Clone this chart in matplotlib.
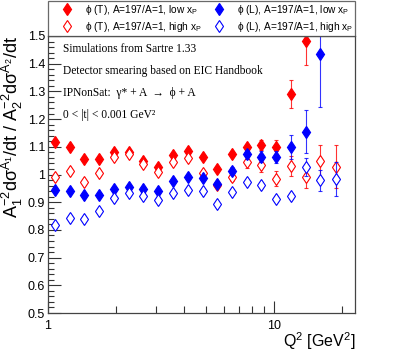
import matplotlib
matplotlib.use("Agg")
import matplotlib.pyplot as plt
from matplotlib.ticker import FixedLocator, FixedFormatter, MultipleLocator, NullFormatter

# ---- data ----
q2 = [1.07, 1.25, 1.45, 1.68, 1.96, 2.28, 2.64, 3.08, 3.58, 4.16,
      4.84, 5.61, 6.52, 7.57, 8.79, 10.2, 11.9, 13.8, 16.0, 18.7]

t_low = [1.116, 1.100, 1.057, 1.056, 1.082, 1.081, 1.050, 1.028, 1.070, 1.086,
         1.064, 1.019, 1.074, 1.098, 1.106, 1.100, 1.291, 1.483]
t_low_err = [0.006, 0.006, 0.006, 0.006, 0.007, 0.007, 0.007, 0.008, 0.008, 0.008,
             0.009, 0.010, 0.011, 0.013, 0.018, 0.025, 0.050, 0.088]

t_high = [0.992, 1.013, 0.974, 1.005, 1.064, 1.075, 1.037, 1.008, 1.044, 1.058,
          1.004, 0.961, 0.992, 1.044, 1.033, 0.984, 1.031, 0.992, 1.049, 1.028]
t_high_err = [0.006, 0.006, 0.006, 0.006, 0.007, 0.007, 0.007, 0.008, 0.008, 0.009,
              0.010, 0.011, 0.014, 0.020, 0.025, 0.027, 0.035, 0.040, 0.057, 0.078]

l_low = [0.944, 0.940, 0.926, 0.927, 0.949, 0.954, 0.947, 0.939, 0.978, 0.992,
         0.986, 0.965, 1.013, 1.073, 1.064, 1.063, 1.100, 1.155, 1.435]
l_low_err = [0.006, 0.006, 0.006, 0.006, 0.007, 0.007, 0.007, 0.008, 0.008, 0.009,
             0.010, 0.011, 0.013, 0.016, 0.020, 0.022, 0.044, 0.077, 0.190]

l_high = [0.818, 0.842, 0.839, 0.869, 0.914, 0.932, 0.922, 0.908, 0.932, 0.944,
          0.940, 0.892, 0.938, 0.974, 0.962, 0.912, 0.923, 1.028, 0.980, 0.983]
l_high_err = [0.005, 0.005, 0.005, 0.005, 0.006, 0.006, 0.006, 0.007, 0.007, 0.007,
              0.008, 0.009, 0.010, 0.010, 0.011, 0.011, 0.012, 0.033, 0.038, 0.061]

labels = [r"ϕ (T), A=197/A=1, low $\mathrm{x_{P}}$",
          r"ϕ (T), A=197/A=1, high $\mathrm{x_{P}}$",
          r"ϕ (L), A=197/A=1, low $\mathrm{x_{P}}$",
          r"ϕ (L), A=197/A=1, high $\mathrm{x_{P}}$"]

info_lines = ["Simulations from Sartre 1.33",
              "Detector smearing based on EIC Handbook",
              "IPNonSat:  γ* + A  →  ϕ + A",
              "0 < |t| < 0.001 GeV²"]

xtick_vals = [1, 10]
xtick_labels = ["1", "10"]

# ---- style ----
plt.rcParams['font.family'] = ['Liberation Sans', 'DejaVu Sans']
plt.rcParams['mathtext.fontset'] = 'custom'
plt.rcParams['mathtext.rm'] = 'Liberation Sans'
plt.rcParams['mathtext.it'] = 'Liberation Sans:italic'
plt.rcParams['mathtext.bf'] = 'Liberation Sans:bold'

fig = plt.figure(figsize=(3.95, 3.57), dpi=100)
ax = fig.add_axes([48/395, 1-313/357, 307/395, 277/357])

red = (1.0, 0.0, 0.0)
blue = (0.0, 0.0, 1.0)
ms = 6.3

def draw(x, y, e, color, filled, label):
    n = len(y)
    ax.errorbar(x[:n], y, yerr=e, fmt='none', ecolor=color, elinewidth=0.8,
                capsize=1.3, capthick=0.8, alpha=0.8)
    ax.plot(x[:n], y, linestyle='none', marker='d', markersize=ms,
            markerfacecolor=color if filled else 'white',
            markeredgecolor=color, markeredgewidth=0.9 if filled else 0.8,
            label=label)

draw(q2, t_low, t_low_err, red, True, labels[0])
draw(q2, t_high, t_high_err, red, False, labels[1])
draw(q2, l_low, l_low_err, blue, True, labels[2])
draw(q2, l_high, l_high_err, blue, False, labels[3])

ax.set_xscale('log')
ax.set_xlim(1, 22.8)
ax.set_ylim(0.5, 1.5)

ax.xaxis.set_major_locator(FixedLocator(xtick_vals))
ax.xaxis.set_major_formatter(FixedFormatter(xtick_labels))
ax.xaxis.set_minor_locator(FixedLocator([2, 3, 4, 5, 6, 7, 8, 9, 20]))
ax.xaxis.set_minor_formatter(NullFormatter())
ax.yaxis.set_major_locator(MultipleLocator(0.1))
ax.yaxis.set_minor_locator(MultipleLocator(0.02))
ax.yaxis.set_major_formatter(plt.FuncFormatter(lambda v, p: ("%g" % round(v, 2))))

ax.tick_params(axis='both', which='both', direction='in', top=False, right=False,
               labelsize=9, color='#333333')
ax.tick_params(axis='x', which='major', length=9, width=0.8, pad=5)
ax.tick_params(axis='x', which='minor', length=5, width=0.8)
ax.tick_params(axis='y', which='major', length=9, width=0.8, pad=2)
ax.tick_params(axis='y', which='minor', length=4.5, width=0.8)
for s in ax.spines.values():
    s.set_color('#444444')
    s.set_linewidth(0.9)

ax.set_ylabel(r"$\mathrm{A_1^{-2}dσ^{A_1}/dt\ /\ A_2^{-2}dσ^{A_2}/dt}$",
              fontsize=13.0, loc='top')
ax.yaxis.set_label_coords(-0.074, 1.0)
ax.set_xlabel(r"$\mathrm{Q^2\ [GeV^2]}$", fontsize=11.5, loc='right', labelpad=-1)

leg = ax.legend(loc='lower left', bbox_to_anchor=(0, 1.0, 1.0, 32/277),
                mode='expand', ncol=2, borderaxespad=0, frameon=True,
                fancybox=False, fontsize=7.3, handletextpad=0.05, borderpad=0.2,
                labelspacing=0.3, columnspacing=1.0, handlelength=3.4)
leg.get_frame().set_edgecolor('#444444')
leg.get_frame().set_linewidth(0.9)

for i, t in enumerate(info_lines):
    ax.text(0.05, 0.975 - i * 0.079, t, transform=ax.transAxes,
            family=['Liberation Serif', 'DejaVu Serif'], fontsize=8.3,
            va='top', ha='left')

fig.savefig("out.png", dpi=100)
